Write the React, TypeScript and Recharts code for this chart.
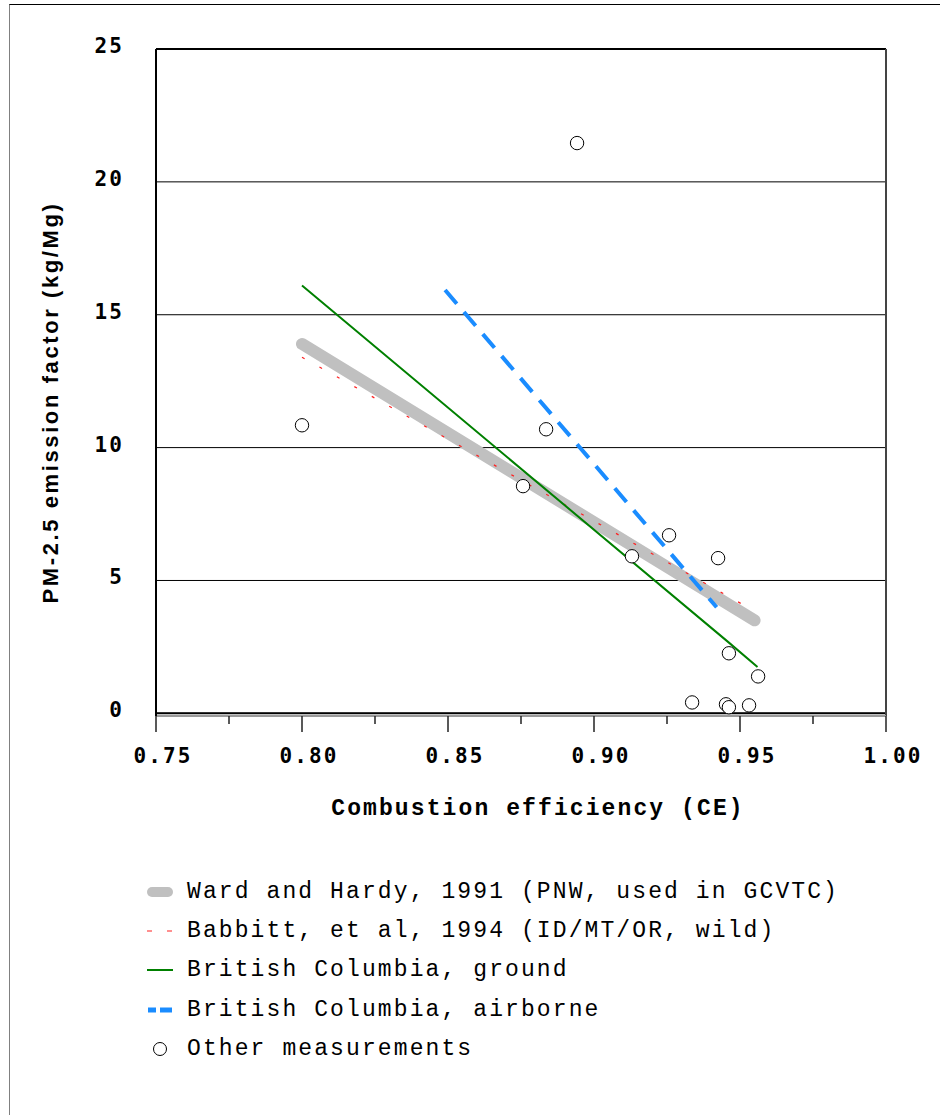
import React from 'react';
import {
  ComposedChart,
  Line,
  Scatter,
  XAxis,
  YAxis,
  CartesianGrid,
  ReferenceLine,
  Legend,
  Label,
} from 'recharts';

// ---- tick values ----
const xTicks = [0.75, 0.775, 0.8, 0.825, 0.85, 0.875, 0.9, 0.925, 0.95, 0.975, 1.0];
const xMajorTicks = [0.75, 0.8, 0.85, 0.9, 0.95, 1.0];
const yTicks = [0, 5, 10, 15, 20, 25];

// ---- series values (combustion efficiency, PM-2.5 kg/Mg) ----
const wardCE = [0.8, 0.955];
const wardEF = [13.9, 3.5];

const babbittCE = [0.8, 0.952];
const babbittEF = [13.4, 4.03];

const bcGroundCE = [0.8, 0.946, 0.956];
const bcGroundEF = [16.1, 2.68, 1.74];

const bcAirCE = [0.849, 0.942];
const bcAirEF = [15.93, 3.99];

const otherCE = [0.8, 0.8757, 0.8836, 0.8942, 0.913, 0.9257, 0.9336, 0.9425, 0.9452, 0.9462, 0.9462, 0.9531, 0.9562];
const otherEF = [10.84, 8.55, 10.69, 21.46, 5.91, 6.7, 0.41, 5.84, 0.34, 2.26, 0.23, 0.3, 1.39];

const seriesNames = [
  'Ward and Hardy, 1991 (PNW, used in GCVTC)',
  'Babbitt, et al, 1994 (ID/MT/OR, wild)',
  'British Columbia, ground',
  'British Columbia, airborne',
  'Other measurements',
];

const toPts = (xs: number[], ys: number[]) => xs.map((x, i) => ({ ce: x, ef: ys[i] }));

const lineSeries = [
  { key: 'ward', name: seriesNames[0], data: toPts(wardCE, wardEF), stroke: '#c0c0c0', width: 12, dash: undefined as string | undefined },
  { key: 'babbitt', name: seriesNames[1], data: toPts(babbittCE, babbittEF), stroke: '#ff2020', width: 1.2, dash: '3 17' },
  { key: 'bcGround', name: seriesNames[2], data: toPts(bcGroundCE, bcGroundEF), stroke: '#008000', width: 2, dash: undefined },
  { key: 'bcAir', name: seriesNames[3], data: toPts(bcAirCE, bcAirEF), stroke: '#1a8cff', width: 4, dash: '18 11' },
];
const otherPts = toPts(otherCE, otherEF);

const tickFont: React.CSSProperties = {
  fontFamily: '"DejaVu Sans Mono", monospace',
  fontWeight: 'bold',
  fontSize: 21,
  letterSpacing: 2.05,
  fill: '#000',
};

const XTick = (props: any) => {
  const { x, y, payload } = props;
  const v = payload.value as number;
  const major = xMajorTicks.some((m) => Math.abs(m - v) < 1e-6);
  return (
    <g>
      <line x1={x} x2={x} y1={y} y2={y + (major ? 16 : 8)} stroke="#222" strokeWidth={1.5} />
      {major && (
        <text x={x + 7} y={y + 47} textAnchor="middle" style={tickFont}>
          {v.toFixed(2)}
        </text>
      )}
    </g>
  );
};

const YTick = (props: any) => {
  const { x, y, payload } = props;
  return (
    <text x={x - 34 + 2} y={y + 4} textAnchor="end" style={tickFont}>
      {payload.value}
    </text>
  );
};

const XTitle = (props: any) => {
  const vb = props.viewBox;
  return (
    <text
      x={vb.x + vb.width / 2 + 17}
      y={vb.y + 99}
      textAnchor="middle"
      style={{ fontFamily: '"Liberation Mono", monospace', fontWeight: 'bold', fontSize: 23, letterSpacing: 2.1, fill: '#000' }}
    >
      Combustion efficiency (CE)
    </text>
  );
};

const YTitle = (props: any) => {
  const vb = props.viewBox;
  const cx = vb.x - 38;
  const cy = vb.y + vb.height / 2 + 20;
  return (
    <text
      x={cx}
      y={cy}
      transform={`rotate(-90, ${cx}, ${cy})`}
      textAnchor="middle"
      style={{ fontFamily: '"Liberation Sans", Arial, sans-serif', fontWeight: 'bold', fontSize: 22, letterSpacing: 2.6, fill: '#000' }}
    >
      PM-2.5 emission factor (kg/Mg)
    </text>
  );
};

const LegendIcon = ({ idx }: { idx: number }) => {
  if (idx === 0)
    return <line x1={5} x2={21} y1={8} y2={8} stroke="#c0c0c0" strokeWidth={10} strokeLinecap="round" />;
  if (idx === 1) return <line x1={0} x2={26} y1={8} y2={8} stroke="#ff2020" strokeWidth={1.2} strokeDasharray="5 15" />;
  if (idx === 2) return <line x1={0} x2={26} y1={8} y2={8} stroke="#008000" strokeWidth={2} />;
  if (idx === 3)
    return (
      <g>
        <line x1={1} x2={9} y1={8} y2={8} stroke="#1a8cff" strokeWidth={5} />
        <line x1={13} x2={25} y1={8} y2={8} stroke="#1a8cff" strokeWidth={5} />
      </g>
    );
  return <circle cx={13} cy={8} r={6.5} fill="#fff" stroke="#000" strokeWidth={1} />;
};

const LegendBox = () => (
  <div>
    {seriesNames.map((name, i) => (
      <div key={name} style={{ display: 'flex', alignItems: 'center', height: 39.3 }}>
        <svg width={26} height={16} style={{ display: 'block', overflow: 'visible' }}>
          <LegendIcon idx={i} />
        </svg>
        <span
          style={{
            marginLeft: 14,
            fontFamily: '"Liberation Mono", monospace',
            fontSize: 23,
            letterSpacing: 2.1,
            color: '#000',
            whiteSpace: 'nowrap',
            lineHeight: '26px',
          }}
        >
          {name}
        </span>
      </div>
    ))}
  </div>
);

const CircleShape = (props: any) => (
  <circle cx={props.cx} cy={props.cy} r={6.7} fill="#fff" stroke="#000" strokeWidth={1} />
);

export default function App() {
  return (
    <div style={{ position: 'absolute', left: 0, top: 0, width: 940, height: 1115, background: '#fff' }}>
      <div
        style={{
          position: 'absolute',
          left: 9,
          top: 4,
          width: 931,
          height: 1111,
          borderTop: '1px solid #000',
          borderLeft: '1px solid #808080',
          boxSizing: 'border-box',
        }}
      />
      <ComposedChart
        width={940}
        height={1115}
        margin={{ top: 49, right: 54, left: 96, bottom: 279 }}
        style={{ position: 'absolute', left: 0, top: 0 }}
      >
        <CartesianGrid horizontal vertical={false} stroke="#000" strokeWidth={1} />
        <XAxis
          type="number"
          dataKey="ce"
          domain={[0.75, 1.0]}
          ticks={xTicks}
          interval={0}
          allowDataOverflow
          height={120}
          axisLine={{ stroke: '#9a9a9a', strokeWidth: 2 }}
          tickLine={false}
          tickSize={0}
          tickMargin={0}
          tick={<XTick />}
        >
          <Label content={<XTitle />} />
        </XAxis>
        <YAxis
          type="number"
          dataKey="ef"
          domain={[-0.1, 25]}
          ticks={yTicks}
          interval={0}
          allowDataOverflow
          width={60}
          axisLine={{ stroke: '#000', strokeWidth: 2 }}
          tickLine={false}
          tickSize={0}
          tickMargin={0}
          tick={<YTick />}
        >
          <Label content={<YTitle />} />
        </YAxis>
        <ReferenceLine y={25} stroke="#000" strokeWidth={2} />
        <ReferenceLine y={0} stroke="#000" strokeWidth={2} />
        <ReferenceLine x={1.0} stroke="#444" strokeWidth={2} />
        {lineSeries.map((s) => (
          <Line
            key={s.key}
            data={s.data}
            dataKey="ef"
            name={s.name}
            type="linear"
            stroke={s.stroke}
            strokeWidth={s.width}
            strokeDasharray={s.dash}
            strokeLinecap={s.key === 'ward' ? 'round' : 'butt'}
            strokeLinejoin="round"
            dot={false}
            activeDot={false}
            isAnimationActive={false}
          />
        ))}
        <Scatter
          data={otherPts}
          dataKey="ef"
          name={seriesNames[4]}
          shape={<CircleShape />}
          isAnimationActive={false}
        />
        <Legend
          layout="vertical"
          align="center"
          verticalAlign="middle"
          wrapperStyle={{ left: 147, top: 872, width: 760, height: 200 }}
          content={<LegendBox />}
        />
      </ComposedChart>
    </div>
  );
}
